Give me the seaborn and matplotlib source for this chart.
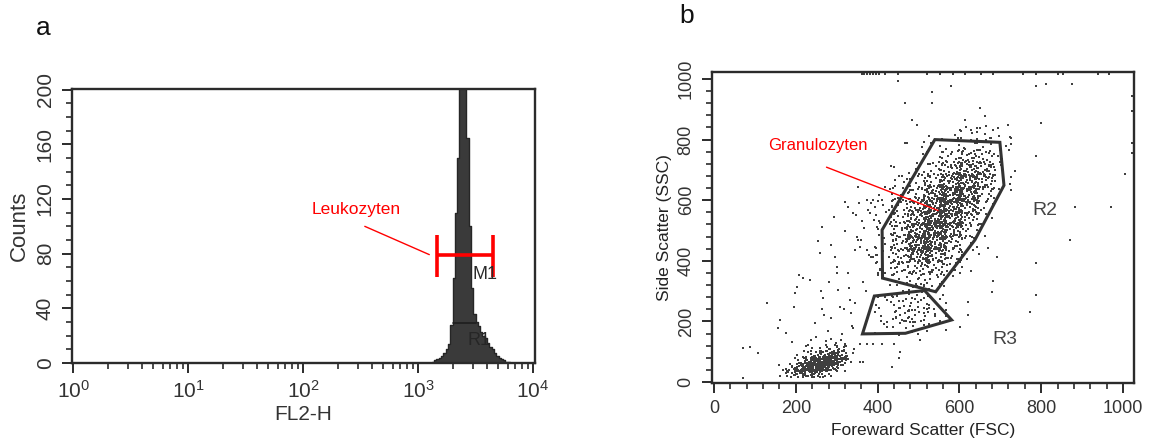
import numpy as np
import pandas as pd
import matplotlib
matplotlib.use("Agg")
import matplotlib.pyplot as plt
import matplotlib.ticker as mticker
from matplotlib.patches import Polygon
import seaborn as sns

# ---------------- data: panel a (FL2-H histogram) ----------------
hist_log_start = 3.12          # log10 of first bin edge
hist_binwidth = 0.02           # bin width in decades
hist_counts = [1, 2, 3, 4, 5, 7, 10, 14, 28, 62,
               110, 150, 250, 300, 240, 165, 100, 55, 36, 30,
               27, 23, 20, 18, 15, 12, 10, 7, 5, 4,
               3, 2, 1, 1]
leuko_bracket_x = [10**3.168, 10**3.655]   # M1 marker range
leuko_bracket_y = 79
r1_gate_x = [10**3.30, 10**3.50]
r1_gate_y = 29

# ---------------- data: panel b (FSC / SSC dot plot) ----------------
# density grids (event counts per cell)
gran_x0, gran_y0, gran_cell = 400, 280, 40
gran_grid = [
    [0, 4, 6, 4, 0, 0, 0, 0],
    [3, 8, 10, 8, 4, 0, 0, 0],
    [5, 14, 22, 18, 8, 2, 0, 0],
    [6, 20, 40, 35, 15, 4, 0, 0],
    [6, 22, 50, 50, 25, 6, 0, 0],
    [6, 18, 45, 60, 35, 12, 2, 0],
    [6, 14, 35, 60, 45, 22, 4, 0],
    [5, 10, 25, 50, 55, 35, 8, 0],
    [3, 8, 18, 35, 55, 50, 15, 2],
    [0, 4, 10, 20, 40, 50, 28, 4],
    [0, 2, 4, 10, 25, 35, 25, 5],
    [0, 0, 2, 4, 12, 18, 15, 4],
    [0, 0, 1, 2, 4, 8, 8, 3],
    [0, 0, 0, 1, 2, 3, 4, 2],
]
r3_x0, r3_y0, r3_cell = 360, 160, 40
r3_grid = [
    [0, 3, 6, 5, 2, 0],
    [2, 5, 12, 12, 6, 1],
    [1, 6, 10, 10, 6, 0],
]
lymph_x0, lymph_y0, lymph_cell = 160, 20, 20
lymph_grid = [
    [4, 9, 16, 18, 14, 6, 2, 0, 0],
    [1, 5, 14, 26, 35, 30, 14, 3, 0],
    [0, 1, 5, 14, 28, 35, 30, 12, 2],
    [0, 0, 1, 4, 9, 15, 18, 14, 3],
    [0, 0, 0, 1, 2, 4, 6, 6, 2],
    [0, 0, 0, 0, 0, 1, 2, 3, 1],
]
# individual sparse events
sparse_fsc = [361, 366, 373, 381, 389, 397, 404, 418, 450, 520, 552, 585, 613, 654, 682, 756, 788,
              841, 853, 939, 967, 1022, 1022, 1022, 1022,
              450, 532, 532, 580, 467, 788, 811, 876, 1006, 800, 788, 882, 971, 870, 788, 788,
              772, 680, 682, 670, 692, 621, 601, 621, 503, 453, 434, 454, 389, 356, 373, 411,
              440, 356, 365, 70, 72, 88, 108, 130, 161, 157, 177, 190, 198, 202, 208, 217,
              235, 195, 265, 267, 255, 259, 265, 287, 296, 300, 304, 308, 287, 293, 320, 328,
              320, 328, 331, 332, 334, 337, 340, 347, 349, 352, 355, 361, 366, 373, 377, 381,
              385, 389, 393, 397, 404, 410, 418, 442, 440, 467, 471, 483, 497, 513, 353, 358,
              344, 373, 389, 365, 385, 393, 399, 397, 401, 405, 650, 662, 666, 642, 629, 613,
              604, 589, 682, 696, 719, 727, 735, 715, 250, 278, 312, 340, 236, 226, 248, 270,
              318, 345, 372, 300, 282, 262, 380, 360]
sparse_ssc = [1018, 1018, 1018, 1018, 1018, 1018, 1018, 1018, 1018, 1018, 1018, 1018, 1018, 1018,
              1018, 1018, 1018, 1018, 1018, 1018, 1018, 943, 893, 788, 755,
              992, 956, 921, 978, 921, 978, 983, 983, 686, 855, 747, 579, 579, 469, 392, 287,
              232, 298, 335, 442, 412, 265, 183, 221, 139, 81, 51, 100, 126, 126, 126, 126,
              126, 67, 67, 15, 111, 115, 95, 260, 205, 177, 161, 133, 293, 315, 354, 343,
              337, 249, 240, 276, 464, 425, 513, 453, 414, 359, 304, 249, 210, 544, 593, 579,
              497, 359, 309, 271, 227, 185, 557, 551, 480, 645, 590, 530, 508, 601, 568, 557,
              590, 601, 579, 551, 530, 601, 645, 667, 711, 789, 789, 866, 849, 791, 469, 447,
              436, 436, 414, 331, 414, 447, 420, 392, 359, 370, 904, 877, 844, 838, 833, 866,
              827, 816, 833, 811, 849, 805, 695, 778, 150, 170, 160, 180, 140, 120, 195, 220,
              240, 260, 300, 380, 330, 300, 420, 470]
gate_r2_fsc = [540, 699, 709, 638, 542, 412, 411]
gate_r2_ssc = [800, 791, 649, 469, 298, 343, 502]
gate_r3_fsc = [392, 515, 581, 468, 363]
gate_r3_ssc = [284, 302, 205, 161, 159]


def _halton(i, b):
    f, r = 1.0, 0.0
    while i > 0:
        f /= b
        r += f * (i % b)
        i //= b
    return r


def grid_events(x0, y0, cell, grid):
    """Spread each cell's events evenly over the cell (slightly overlapping neighbours)."""
    xs, ys = [], []
    for r, row in enumerate(grid):
        for c, n in enumerate(row):
            start = 11 + 37 * (r * len(row) + c)
            for i in range(n):
                u = _halton(start + i, 2)
                v = _halton(start + i, 3)
                xs.append(x0 + (c - 0.2 + 1.4 * u) * cell)
                ys.append(y0 + (r - 0.2 + 1.4 * v) * cell)
    return xs, ys


# ---------------- style ----------------
sns.set_style("white")
plt.rcParams['font.family'] = ['Liberation Sans', 'DejaVu Sans']
plt.rcParams['mathtext.fontset'] = 'custom'
plt.rcParams['mathtext.rm'] = 'Liberation Sans'
plt.rcParams['mathtext.it'] = 'Liberation Sans:italic'
plt.rcParams['mathtext.bf'] = 'Liberation Sans:bold'

TXT = '#333333'
SPN = '#2b2b2b'
RED = '#ff0000'

fig = plt.figure(figsize=(11.53, 4.48), dpi=100)
W, H = 1153, 448


def px_axes(x0, y0, x1, y1):
    return fig.add_axes([x0 / W, 1 - y1 / H, (x1 - x0) / W, (y1 - y0) / H])


# ---------------- panel a ----------------
ax1 = px_axes(72, 89, 535, 363)
centers = [10 ** (hist_log_start + (i + 0.5) * hist_binwidth) for i in range(len(hist_counts))]
hdf = pd.DataFrame({"fl2": centers, "n": hist_counts})
sns.histplot(data=hdf, x="fl2", weights="n", log_scale=True, binwidth=hist_binwidth,
             binrange=(hist_log_start, hist_log_start + hist_binwidth * len(hist_counts)),
             element="step", fill=True, color='#3a3a3a', alpha=1.0, linewidth=1.0,
             edgecolor='#262626', ax=ax1)
ax1.set_xlim(10 ** -0.009, 10 ** 4.017)
ax1.set_ylim(0, 200.5)
ax1.xaxis.set_major_locator(mticker.LogLocator(base=10, numticks=10))
ax1.xaxis.set_minor_locator(mticker.LogLocator(base=10, subs=np.arange(2, 10), numticks=20))
ax1.xaxis.set_minor_formatter(mticker.NullFormatter())
ax1.yaxis.set_major_locator(mticker.MultipleLocator(40))
ax1.yaxis.set_minor_locator(mticker.MultipleLocator(10))
ax1.set_xlabel("FL2-H", fontsize=15, color=TXT, labelpad=2)
ax1.set_ylabel("Counts", fontsize=16, color=TXT, labelpad=4)

# annotations panel a
ax1.plot(leuko_bracket_x, [leuko_bracket_y] * 2, color=RED, lw=2.6, solid_capstyle='butt')
for xv in leuko_bracket_x:
    ax1.plot([xv, xv], [63, 93.5], color=RED, lw=2.6, solid_capstyle='butt')
ax1.plot([10 ** 2.537, 10 ** 3.098], [100, 79.3], color=RED, lw=1.0)
ax1.text(10 ** 2.465, 112, "Leukozyten", color=RED, fontsize=12.5, ha='center', va='center')
ax1.plot(r1_gate_x, [r1_gate_y] * 2, color='#1e1e1e', lw=1.2)
ax1.text(10 ** 3.585, 64.5, "M1", color='#2a2a2a', fontsize=13, ha='center', va='center')
ax1.text(10 ** 3.53, 16.4, "R1", color='#262626', fontsize=13, ha='center', va='center')

# ---------------- panel b ----------------
ax2 = px_axes(712, 72, 1134, 383)
xs, ys = [], []
for g in [(gran_x0, gran_y0, gran_cell, gran_grid), (r3_x0, r3_y0, r3_cell, r3_grid),
          (lymph_x0, lymph_y0, lymph_cell, lymph_grid)]:
    a, b = grid_events(*g)
    xs += a
    ys += b
xs += sparse_fsc
ys += sparse_ssc
sdf = pd.DataFrame({"FSC": xs, "SSC": ys})
sns.scatterplot(data=sdf, x="FSC", y="SSC", marker='s', s=3.2, linewidth=0,
                color='#3f3f3f', ax=ax2, legend=False)
ax2.add_patch(Polygon(list(zip(gate_r2_fsc, gate_r2_ssc)), closed=True, fill=False,
                      edgecolor='#333333', lw=2.2))
ax2.add_patch(Polygon(list(zip(gate_r3_fsc, gate_r3_ssc)), closed=True, fill=False,
                      edgecolor='#333333', lw=2.2))
ax2.set_xlim(-5, 1027)
ax2.set_ylim(-3, 1023)
ax2.xaxis.set_major_locator(mticker.MultipleLocator(200))
ax2.xaxis.set_minor_locator(mticker.MultipleLocator(40))
ax2.yaxis.set_major_locator(mticker.MultipleLocator(200))
ax2.yaxis.set_minor_locator(mticker.MultipleLocator(40))
ax2.set_xlabel("Foreward Scatter (FSC)", fontsize=12.5, color='#222222', labelpad=4)
ax2.set_ylabel("Side Scatter (SSC)", fontsize=12.5, color='#222222', labelpad=4)
ax2.plot([275, 548], [709, 566], color=RED, lw=1.0)
ax2.text(255, 780, "Granulozyten", color=RED, fontsize=12, ha='center', va='center')
ax2.text(809, 566, "R2", color='#444444', fontsize=14, ha='center', va='center')
ax2.text(712, 139, "R3", color='#444444', fontsize=14, ha='center', va='center')

# common axis styling
for ax, lsize in [(ax1, 15), (ax2, 13)]:
    for sp in ax.spines.values():
        sp.set_visible(True)
        sp.set_color(SPN)
        sp.set_linewidth(1.7)
    ax.tick_params(which='major', direction='out', length=7.5, width=1.4, color=SPN,
                   labelsize=lsize, labelcolor=TXT, pad=5, bottom=True, left=True)
    ax.tick_params(which='minor', direction='out', length=4.2, width=1.2, color=SPN,
                   bottom=True, left=True)
    for lab in ax.get_yticklabels():
        lab.set_rotation(90)
        lab.set_va('center')

fig.text(43 / W, 1 - 28 / H, "a", fontsize=19, ha='center', va='center', color='#111111')
fig.text(687 / W, 1 - 16 / H, "b", fontsize=19, ha='center', va='center', color='#111111')

fig.savefig("out.png", dpi=100)
